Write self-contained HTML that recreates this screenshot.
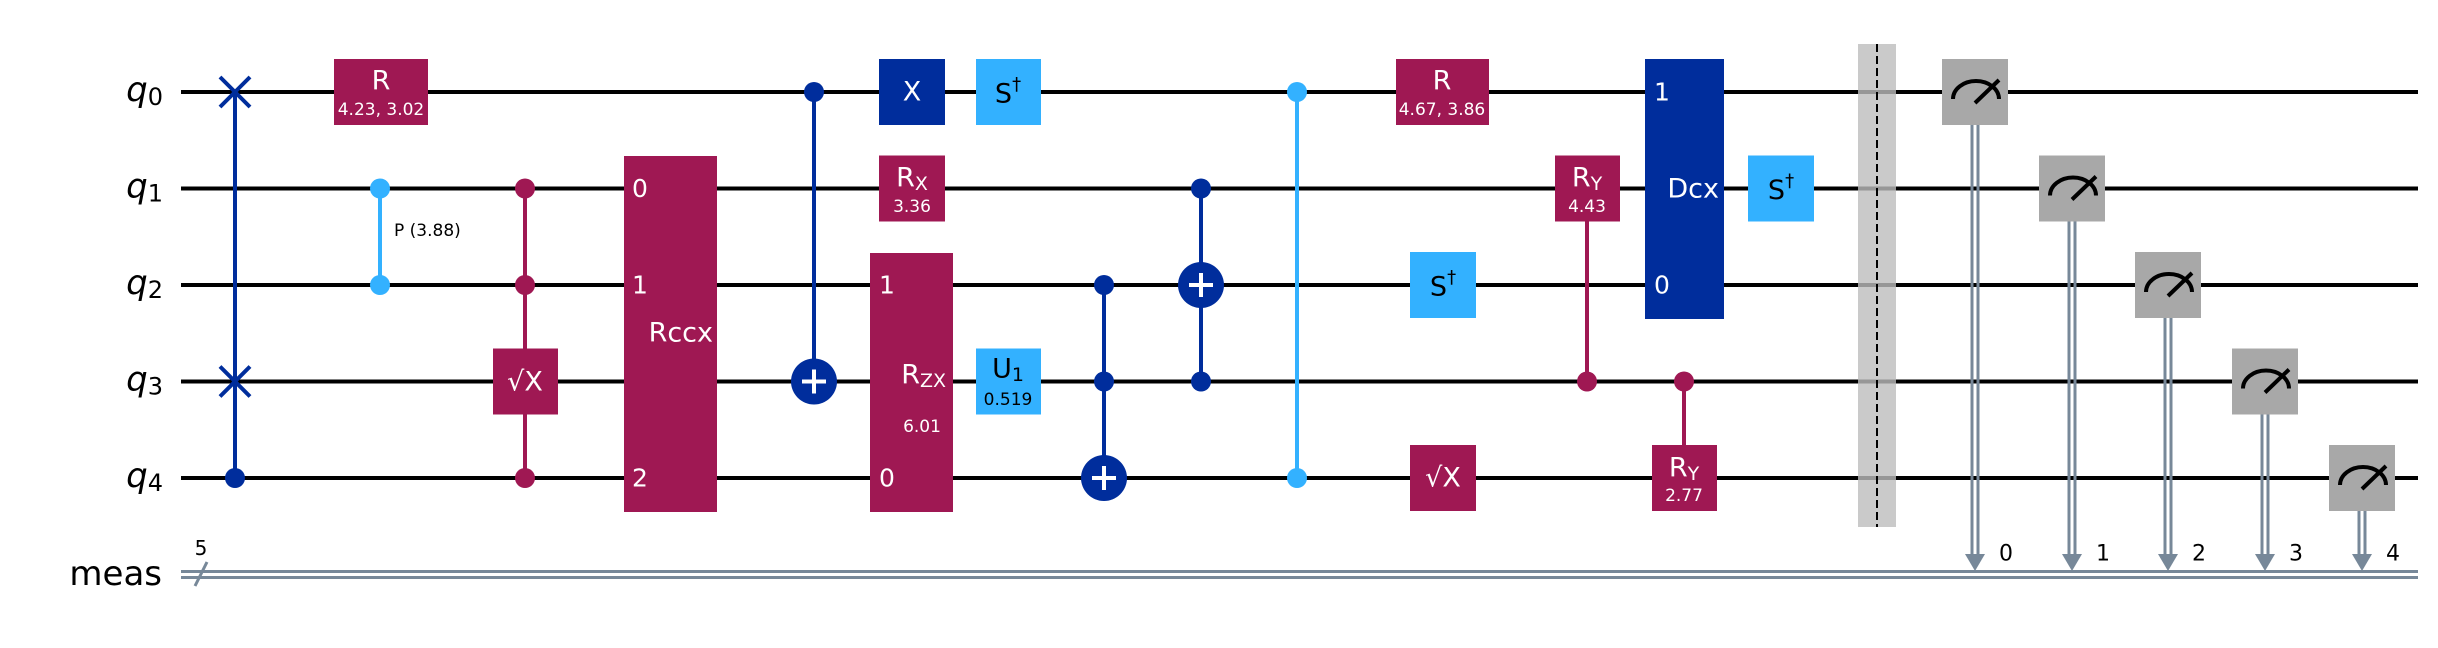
<!DOCTYPE html>
<html><head><meta charset="utf-8"><style>
html,body{margin:0;padding:0;background:#fff}
svg{display:block;font-family:"DejaVu Sans","Liberation Sans",sans-serif}
</style></head><body>
<svg width="2438" height="648" viewBox="0 0 2438 648" xmlns="http://www.w3.org/2000/svg">
<rect width="2438" height="648" fill="#fff"/>
<g font-size="34" text-anchor="end" dominant-baseline="central">
<text x="163" y="90"><tspan font-style="italic">q</tspan><tspan font-size="24" dy="7">0</tspan></text>
<text x="163" y="186.5"><tspan font-style="italic">q</tspan><tspan font-size="24" dy="7">1</tspan></text>
<text x="163" y="283"><tspan font-style="italic">q</tspan><tspan font-size="24" dy="7">2</tspan></text>
<text x="163" y="379.5"><tspan font-style="italic">q</tspan><tspan font-size="24" dy="7">3</tspan></text>
<text x="163" y="476"><tspan font-style="italic">q</tspan><tspan font-size="24" dy="7">4</tspan></text>
<text x="162" y="574">meas</text>
</g>
<g stroke="#000" stroke-width="4">
<line x1="181" x2="2418" y1="92" y2="92"/><line x1="181" x2="2418" y1="188.5" y2="188.5"/><line x1="181" x2="2418" y1="285" y2="285"/><line x1="181" x2="2418" y1="381.5" y2="381.5"/><line x1="181" x2="2418" y1="478" y2="478"/>
</g>
<g stroke="#778899" stroke-width="3">
<line x1="181" x2="2418" y1="571.5" y2="571.5"/><line x1="181" x2="2418" y1="577.5" y2="577.5"/>
<line x1="195" y1="586" x2="207" y2="562"/>
</g>
<text x="201" y="555" font-size="20" text-anchor="middle">5</text>

<g stroke="#002D9C" stroke-width="4">
<line x1="235" y1="92" x2="235" y2="478"/>
<line x1="220" y1="77" x2="250" y2="107"/><line x1="250" y1="77" x2="220" y2="107"/>
<line x1="220" y1="366.5" x2="250" y2="396.5"/><line x1="250" y1="366.5" x2="220" y2="396.5"/>
<circle cx="235" cy="478" r="10" fill="#002D9C" stroke="none"/>
</g>
<g>
<rect x="334" y="59" width="94" height="66" fill="#9F1853"/>
<text x="381" y="81" fill="#fff" font-size="27" text-anchor="middle" dominant-baseline="central">R</text>
<text x="381" y="110" fill="#fff" font-size="17" text-anchor="middle" dominant-baseline="central">4.23, 3.02</text>
</g>
<g fill="#33B1FF">
<line x1="380" y1="188.5" x2="380" y2="285" stroke="#33B1FF" stroke-width="4"/>
<circle cx="380" cy="188.5" r="10"/><circle cx="380" cy="285" r="10"/>
<text x="394" y="231" fill="#000" font-size="17" dominant-baseline="central">P (3.88)</text>
</g>
<g fill="#9F1853">
<line x1="525" y1="188.5" x2="525" y2="478" stroke="#9F1853" stroke-width="4"/>
<circle cx="525" cy="188.5" r="10"/><circle cx="525" cy="285" r="10"/><circle cx="525" cy="478" r="10"/>
<rect x="493" y="348.5" width="65" height="66"/>
<text x="525" y="382" fill="#fff" font-size="27" text-anchor="middle" dominant-baseline="central">√X</text>
</g>
<g>
<rect x="624" y="156" width="93" height="356" fill="#9F1853"/>
<g fill="#fff" font-size="25" dominant-baseline="central">
<text x="632" y="188.5">0</text><text x="632" y="285">1</text><text x="632" y="478">2</text>
<text x="713" y="333" font-size="27" text-anchor="end">Rccx</text>
</g>
</g>
<g>
<line x1="814" y1="92" x2="814" y2="381.5" stroke="#002D9C" stroke-width="4"/>
<circle cx="814" cy="92" r="10" fill="#002D9C"/>
<circle cx="814" cy="381.5" r="23" fill="#002D9C"/>
<path d="M802 381.5H826M814 369.5V393.5" stroke="#fff" stroke-width="4"/>
</g>
<g>
<rect x="879" y="59" width="66" height="66" fill="#002D9C"/>
<text x="912" y="92" fill="#fff" font-size="27" text-anchor="middle" dominant-baseline="central">X</text>
</g>
<g>
<rect x="976" y="59" width="65" height="66" fill="#33B1FF"/>
<text x="1008" y="94" fill="#000" font-size="27" text-anchor="middle" dominant-baseline="central">S<tspan font-size="18" dy="-10">†</tspan></text>
</g>
<g>
<rect x="879" y="155.5" width="66" height="66" fill="#9F1853"/>
<text x="912" y="178" fill="#fff" font-size="27" text-anchor="middle" dominant-baseline="central">R<tspan font-size="19" dy="6">X</tspan></text>
<text x="912" y="207" fill="#fff" font-size="17" text-anchor="middle" dominant-baseline="central">3.36</text>
</g>
<g>
<rect x="870" y="253" width="83" height="259" fill="#9F1853"/>
<g fill="#fff" dominant-baseline="central">
<text x="879" y="285" font-size="25">1</text><text x="879" y="478" font-size="25">0</text>
<text x="946" y="375" font-size="27" text-anchor="end">R<tspan font-size="19" dy="6">ZX</tspan></text>
<text x="922" y="427" font-size="17" text-anchor="middle">6.01</text>
</g>
</g>
<g>
<rect x="976" y="348.5" width="65" height="66" fill="#33B1FF"/>
<text x="1008" y="369" fill="#000" font-size="27" text-anchor="middle" dominant-baseline="central">U<tspan font-size="19" dy="6">1</tspan></text>
<text x="1008" y="400" fill="#000" font-size="17" text-anchor="middle" dominant-baseline="central">0.519</text>
</g>
<g>
<line x1="1104" y1="285" x2="1104" y2="478" stroke="#002D9C" stroke-width="4"/>
<circle cx="1104" cy="285" r="10" fill="#002D9C"/><circle cx="1104" cy="381.5" r="10" fill="#002D9C"/>
<circle cx="1104" cy="478" r="23" fill="#002D9C"/>
<path d="M1092 478H1116M1104 466V490" stroke="#fff" stroke-width="4"/>
</g>
<g>
<line x1="1201" y1="188.5" x2="1201" y2="381.5" stroke="#002D9C" stroke-width="4"/>
<circle cx="1201" cy="188.5" r="10" fill="#002D9C"/><circle cx="1201" cy="381.5" r="10" fill="#002D9C"/>
<circle cx="1201" cy="285" r="23" fill="#002D9C"/>
<path d="M1189 285H1213M1201 273V297" stroke="#fff" stroke-width="4"/>
</g>
<g fill="#33B1FF">
<line x1="1297" y1="92" x2="1297" y2="478" stroke="#33B1FF" stroke-width="4"/>
<circle cx="1297" cy="92" r="10"/><circle cx="1297" cy="478" r="10"/>
</g>
<g>
<rect x="1396" y="59" width="93" height="66" fill="#9F1853"/>
<text x="1442" y="81" fill="#fff" font-size="27" text-anchor="middle" dominant-baseline="central">R</text>
<text x="1442" y="110" fill="#fff" font-size="17" text-anchor="middle" dominant-baseline="central">4.67, 3.86</text>
</g>
<g>
<rect x="1410" y="252" width="66" height="66" fill="#33B1FF"/>
<text x="1443" y="287" fill="#000" font-size="27" text-anchor="middle" dominant-baseline="central">S<tspan font-size="18" dy="-10">†</tspan></text>
</g>
<g>
<rect x="1410" y="445" width="66" height="66" fill="#9F1853"/>
<text x="1443" y="478" fill="#fff" font-size="27" text-anchor="middle" dominant-baseline="central">√X</text>
</g>
<g>
<line x1="1587" y1="188.5" x2="1587" y2="381.5" stroke="#9F1853" stroke-width="4"/>
<circle cx="1587" cy="381.5" r="10" fill="#9F1853"/>
<rect x="1555" y="155.5" width="65" height="66" fill="#9F1853"/>
<text x="1587" y="178" fill="#fff" font-size="27" text-anchor="middle" dominant-baseline="central">R<tspan font-size="19" dy="6">Y</tspan></text>
<text x="1587" y="207" fill="#fff" font-size="17" text-anchor="middle" dominant-baseline="central">4.43</text>
</g>
<g>
<rect x="1645" y="59" width="79" height="260" fill="#002D9C"/>
<g fill="#fff" dominant-baseline="central">
<text x="1654" y="92" font-size="25">1</text><text x="1654" y="285" font-size="25">0</text>
<text x="1719" y="189" font-size="27" text-anchor="end">Dcx</text>
</g>
</g>
<g>
<line x1="1684" y1="381.5" x2="1684" y2="478" stroke="#9F1853" stroke-width="4"/>
<circle cx="1684" cy="381.5" r="10" fill="#9F1853"/>
<rect x="1652" y="445" width="65" height="66" fill="#9F1853"/>
<text x="1684" y="468" fill="#fff" font-size="27" text-anchor="middle" dominant-baseline="central">R<tspan font-size="19" dy="6">Y</tspan></text>
<text x="1684" y="496" fill="#fff" font-size="17" text-anchor="middle" dominant-baseline="central">2.77</text>
</g>
<g>
<rect x="1748" y="155.5" width="66" height="66" fill="#33B1FF"/>
<text x="1781" y="190.5" fill="#000" font-size="27" text-anchor="middle" dominant-baseline="central">S<tspan font-size="18" dy="-10">†</tspan></text>
</g>
<g>
<rect x="1858" y="44" width="38" height="483" fill="#BDBDBD" opacity="0.8"/>
<line x1="1877" y1="44" x2="1877" y2="527" stroke="#000" stroke-width="2" stroke-dasharray="8,4"/>
</g>
<g font-size="22">
<g>
<rect x="1942" y="59" width="66" height="66" fill="#A8A8A8"/>
<path d="M1953 99A23 18 0 0 1 1999 99M1975 103L1999 80" fill="none" stroke="#000" stroke-width="4"/>
<path d="M1972 125V557M1978 125V557" stroke="#778899" stroke-width="3"/>
<polygon points="1965,554 1985,554 1975,571" fill="#778899"/>
<text x="1999" y="554" dominant-baseline="central">0</text>
</g>
<g>
<rect x="2039" y="155.5" width="66" height="66" fill="#A8A8A8"/>
<path d="M2050 195.5A23 18 0 0 1 2096 195.5M2072 199.5L2096 176.5" fill="none" stroke="#000" stroke-width="4"/>
<path d="M2069 221.5V557M2075 221.5V557" stroke="#778899" stroke-width="3"/>
<polygon points="2062,554 2082,554 2072,571" fill="#778899"/>
<text x="2096" y="554" dominant-baseline="central">1</text>
</g>
<g>
<rect x="2135" y="252" width="66" height="66" fill="#A8A8A8"/>
<path d="M2146 292A23 18 0 0 1 2192 292M2168 296L2192 273" fill="none" stroke="#000" stroke-width="4"/>
<path d="M2165 318V557M2171 318V557" stroke="#778899" stroke-width="3"/>
<polygon points="2158,554 2178,554 2168,571" fill="#778899"/>
<text x="2192" y="554" dominant-baseline="central">2</text>
</g>
<g>
<rect x="2232" y="348.5" width="66" height="66" fill="#A8A8A8"/>
<path d="M2243 388.5A23 18 0 0 1 2289 388.5M2265 392.5L2289 369.5" fill="none" stroke="#000" stroke-width="4"/>
<path d="M2262 414.5V557M2268 414.5V557" stroke="#778899" stroke-width="3"/>
<polygon points="2255,554 2275,554 2265,571" fill="#778899"/>
<text x="2289" y="554" dominant-baseline="central">3</text>
</g>
<g>
<rect x="2329" y="445" width="66" height="66" fill="#A8A8A8"/>
<path d="M2340 485A23 18 0 0 1 2386 485M2362 489L2386 466" fill="none" stroke="#000" stroke-width="4"/>
<path d="M2359 511V557M2365 511V557" stroke="#778899" stroke-width="3"/>
<polygon points="2352,554 2372,554 2362,571" fill="#778899"/>
<text x="2386" y="554" dominant-baseline="central">4</text>
</g>
</g>
</svg>
</body></html>
